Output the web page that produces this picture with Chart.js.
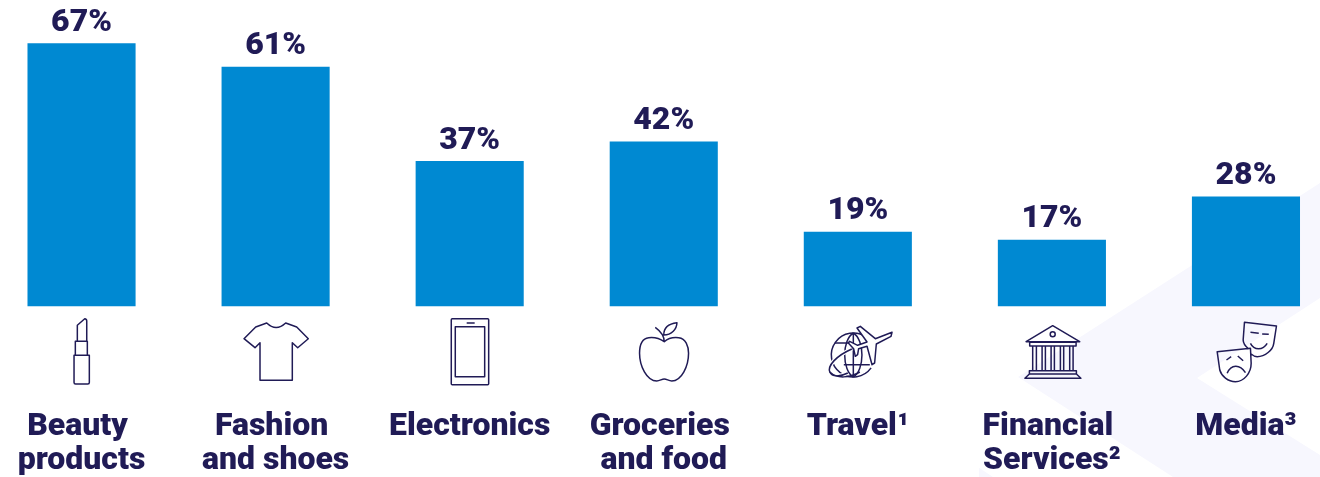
<!DOCTYPE html>
<html>
<head>
<meta charset="utf-8">
<title>Categories</title>
<script src="https://cdn.jsdelivr.net/npm/chart.js@4/dist/chart.umd.min.js"></script>
<style>
html, body { margin: 0; padding: 0; width: 1320px; height: 477px; overflow: hidden; background: #fff; }
/* seven 194px slots centred on the bars, so the canvas hangs over both page edges */
#share-chart { position: absolute; left: -16px; top: 0; }
</style>
</head>
<body>
<canvas id="share-chart" width="1359" height="477"></canvas>
<script>
// first lines keep a trailing space, it nudges them left of the second line
var categories = [
    ['Beauty ', 'products'],
    ['Fashion ', 'and shoes'],
    'Electronics',
    ['Groceries ', 'and food'],
    'Travel¹',
    ['Financial ', 'Services²'],
    'Media³'
];
var shares = [67, 61, 37, 42, 19, 17, 28];

var navy = '#201b56';
var blue = '#0089d2';
var pale = '#f7f7fe';
var canvasLeft = 16;

// line icons, x relative to the bar centre, y from the top of the canvas
var icons = [
    // lipstick
    'M-7.5 355.3H7.8V382.5a1.5 1.5 0 0 1-1.5 1.5H-6a1.5 1.5 0 0 1-1.5-1.5Z' +
    'M-6.2 355.3V341.3H5.8V355.3M-4.2 341.3V325.3L3.2 318.7Q5.2 319 5.2 321V341.3',
    // t-shirt
    'M-8.9 323Q0.5 332 10.1 323L21.1 327L32.7 338.7L22.1 347.7L16.7 342.7V380.3H-15.6V342.7' +
    'L-20.6 347.7L-31.6 338.7L-19.9 327Z',
    // phone
    'M-17.4 318.7H18a1 1 0 0 1 1 1V383.7a1 1 0 0 1-1 1H-17.4a1 1 0 0 1-1-1V319.7a1 1 0 0 1 1-1Z' +
    'M-14.4 326.7H15V376.7H-14.4ZM-3 323H5',
    // apple
    'M0.5 341.7C-4 338.5-9 337-15 337.7C-22 338.5-24.2 346-24.2 353.3C-24.2 366-17 381-7 381' +
    'C-4 381-2 379 0.5 379C3 379 5 381 8 381C18 381 24.8 366 24.8 353.3C24.8 346 22 338.5 15 337.7' +
    'C9 337 4 338.5 0.5 341.7ZM0.5 341.7C0.5 336-2 332-8.5 327.3M0 335C0 327 6 323.5 13.2 322.7C13 329 8 335 0 335Z',
    // globe and plane, the plane is filled so it hides the globe behind it
    null,
    // bank
    'M0.8 325.7L-25.8 341.7H27.8ZM-22.2 342.3H24.2V346H-22.2Z' +
    'M-19.2 346V370.7M-15.5 346V370.7M-9.8 346V370.7M-6.5 346V370.7M-0.8 346V370.7M2.5 346V370.7' +
    'M8.5 346V370.7M11.8 346V370.7M17.8 346V370.7M21.2 346V370.7' +
    'M-22.5 370.7H24.5V374H-22.5ZM-22.5 374H24.5L29 378.3H-27Z',
    // theatre masks
    'M2.8 349C-1 346-2.8 343-2.8 340L-1.5 322.3L30.5 326L27.8 343.3C27 350 19 356.7 11.2 356.7C9 356.7 7 355.5 5.2 354' +
    'M4.5 332.3L12.8 333.3M16.2 334L22.8 334.3M4.5 343.3C8 350.5 17 350.5 21.2 343.3' +
    'M-28.8 351.7L4.5 348.3L5.2 363.3C5.2 373-2 381.7-10.5 381.7C-18 381.7-24.5 376-26.2 370Z' +
    'M-19.5 360L-14.8 356.7M-8.2 356L-2.8 360.7M-18.8 373.3C-15 364-6 364-0.5 372.7'
];
var bankHole = { x: 0.8, y: 334.3, r: 2.5 };

function drawTravelIcon(ctx) {
    ctx.beginPath();
    ctx.arc(-4.5, 355, 22, Math.PI * 0.2, -Math.PI * 0.25);
    ctx.stroke();
    ctx.stroke(new Path2D(
        'M-4.5 333C-16 340-16 370-4.5 377M-4.5 333C7 340 7 370-4.5 377M-4.5 333V377' +
        'M-23 343H-9M-14 364.7H12'
    ));
    // orbit swoosh, white underlay breaks the globe lines
    var orbit = new Path2D('M-6 349C-22 356-30.5 366-28 372C-26 377-18 377-10 373');
    ctx.save();
    ctx.strokeStyle = '#fff';
    ctx.lineWidth = 4;
    ctx.stroke(orbit);
    ctx.restore();
    ctx.stroke(orbit);
    ctx.stroke(new Path2D('M-28 372C-21 379-8 378 2 372'));
    var plane = new Path2D(
        'M34.2 332.3L17.5 338.7L2.5 326.3L-0.8 328L9.2 342L-0.2 345.3L-8.2 341.3L-9.5 343L-4.2 348.7' +
        'L-2.5 356.3L-0.2 354.7L0.8 348.7L9.2 346.3L14.2 364.7L16.8 363L18.5 344L33.2 336.3Z'
    );
    ctx.save();
    ctx.fillStyle = '#fff';
    ctx.fill(plane);
    ctx.restore();
    ctx.stroke(plane);
}

// pale chevron behind the chart
var backdrop = {
    id: 'backdrop',
    beforeDraw: function (chart) {
        var ctx = chart.ctx;
        ctx.save();
        ctx.translate(canvasLeft, 0);
        ctx.fillStyle = pale;
        ctx.fill(new Path2D('M1018 377L1320 183V298L1197 378L1320 455V477H1173Z'));
        ctx.fill(new Path2D('M979 467.7V477H993Z'));
        ctx.restore();
    }
};

var barDecor = {
    id: 'barDecor',
    afterDatasetsDraw: function (chart) {
        var ctx = chart.ctx;
        var bars = chart.getDatasetMeta(0).data;
        ctx.save();
        ctx.font = '900 32px Roboto';
        ctx.fillStyle = navy;
        ctx.textAlign = 'center';
        ctx.textBaseline = 'alphabetic';
        bars.forEach(function (bar, i) {
            ctx.fillText(shares[i] + '%', bar.x, bar.y - 12.5);
        });
        ctx.strokeStyle = navy;
        ctx.lineWidth = 1.5;
        ctx.lineJoin = 'round';
        bars.forEach(function (bar, i) {
            ctx.save();
            ctx.translate(bar.x, 0);
            if (icons[i]) {
                ctx.stroke(new Path2D(icons[i]));
            } else {
                drawTravelIcon(ctx);
            }
            if (i === 5) {
                ctx.beginPath();
                ctx.arc(bankHole.x, bankHole.y, bankHole.r, 0, Math.PI * 2);
                ctx.stroke();
            }
            ctx.restore();
        });
        ctx.restore();
    }
};

var ctx = document.getElementById('share-chart').getContext('2d');
var myChart = new Chart(ctx, {
    type: 'bar',
    data: {
        labels: categories,
        datasets: [{
            data: shares,
            backgroundColor: blue,
            barPercentage: 0.557,
            categoryPercentage: 1
        }]
    },
    options: {
        responsive: false,
        animation: false,
        layout: { padding: { left: 0.5 } },
        plugins: {
            legend: { display: false },
            tooltip: { enabled: false }
        },
        scales: {
            x: {
                // the outer labels must not squeeze the plot area
                afterFit: function (axis) {
                    axis.height = 170.5;
                    axis.paddingLeft = 0;
                    axis.paddingRight = 0;
                },
                grid: { display: false, drawTicks: false },
                border: { display: false },
                ticks: {
                    autoSkip: false,
                    maxRotation: 0,
                    padding: 103,
                    color: navy,
                    font: { family: 'Roboto', weight: '900', size: 32, lineHeight: 1.0625 }
                }
            },
            y: {
                display: false,
                min: 0,
                max: 78
            }
        }
    },
    plugins: [backdrop, barDecor]
});
</script>
</body>
</html>
